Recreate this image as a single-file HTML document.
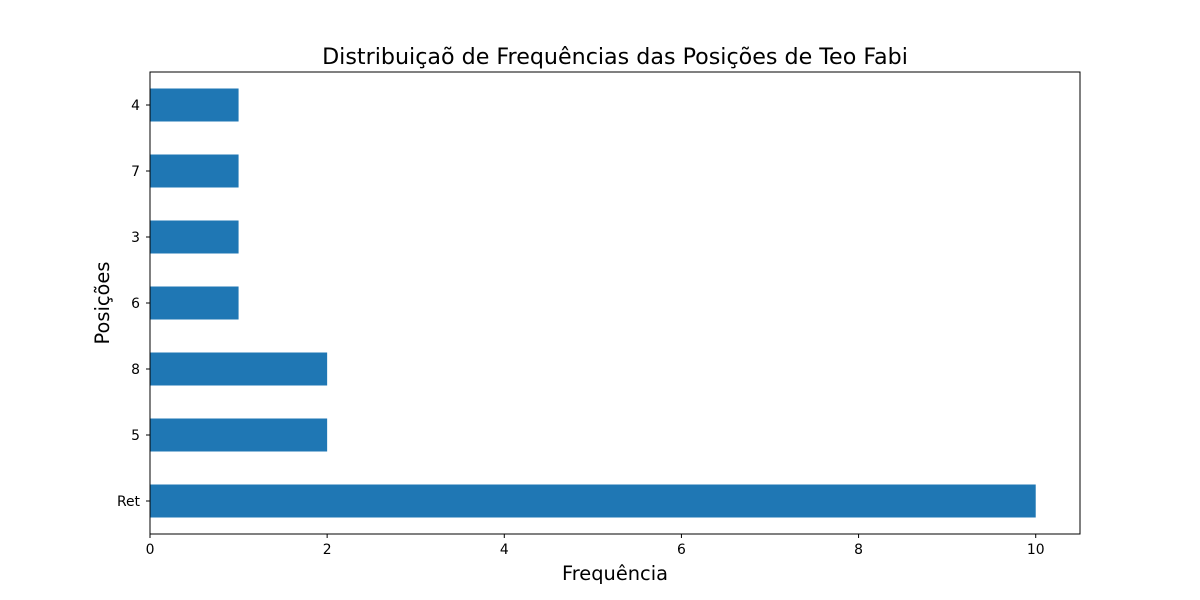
<!DOCTYPE html>
<html><head><meta charset="utf-8"><style>body{margin:0;background:#fff}svg{display:block;font-family:"DejaVu Sans","Liberation Sans",sans-serif}</style></head>
<body>
<svg id="chart" width="1200" height="600">
<rect width="1200" height="600" fill="#fff"/>
<text x="615" y="64" font-size="22.2" text-anchor="middle">Distribuiçaõ de Frequências das Posições de Teo Fabi</text>
<text x="615" y="580" font-size="19.4" text-anchor="middle">Frequência</text>
<text x="109" y="303" font-size="19.4" text-anchor="middle" transform="rotate(-90 109 303)">Posições</text>
<g id="marks"></g>
<rect x="150" y="72" width="930" height="462" fill="none" stroke="#000" stroke-width="1"/>
</svg>
<script>
const categories = ["Ret","5","8","6","3","7","4"];
const values = [10,2,2,1,1,1,1];
const xTicks = [0,2,4,6,8,10];
const L=150,R=1080,T=72,B=534,XMAX=10.5;
const xs=v=>L+v/XMAX*(R-L);
const band=(B-T)/categories.length;
const yc=i=>B-band*(i+0.5);
const g=document.getElementById('marks');
const NS="http://www.w3.org/2000/svg";
function mk(t,a){const e=document.createElementNS(NS,t);for(const k in a)e.setAttribute(k,a[k]);g.appendChild(e);return e;}
categories.forEach((c,i)=>{
  const r=mk('rect',{x:xs(0),y:yc(i)-band*0.25,width:xs(values[i])-xs(0),height:band*0.5,fill:'#1f77b4'});
  
  
  const tk=mk('line',{x1:L-4,x2:L,y1:yc(i),y2:yc(i),stroke:'#000'});
  
  
  const t=mk('text',{x:L-10,y:yc(i)+5,'font-size':13.9,'text-anchor':'end'});
  t.textContent=c;
  
  
});
xTicks.forEach(v=>{
  const tk=mk('line',{x1:xs(v),x2:xs(v),y1:B,y2:B+4,stroke:'#000'});
  
  
  const t=mk('text',{x:xs(v),y:B+20,'font-size':13.9,'text-anchor':'middle'});
  t.textContent=v;
  
  
});
</script>
</body></html>
